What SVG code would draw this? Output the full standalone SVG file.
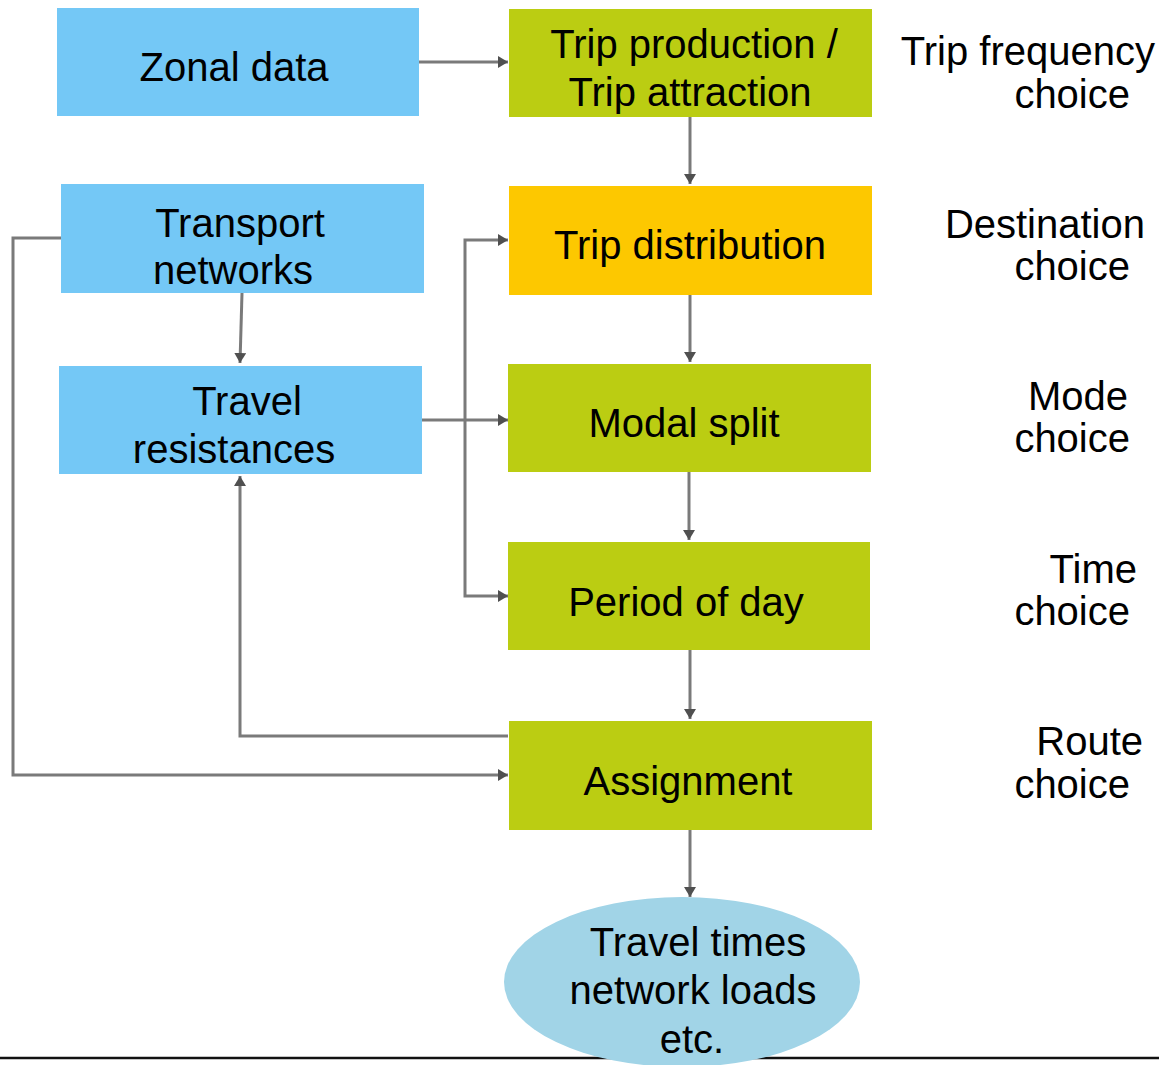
<svg xmlns="http://www.w3.org/2000/svg" width="1159" height="1065" viewBox="0 0 1159 1065">
  <style>
    .lbl { font-family: "Liberation Sans", Arial, sans-serif; font-size: 40px; fill: #000; }
    .mid { text-anchor: middle; }
    .end { text-anchor: end; }
    .blue { fill: #74c8f6; }
    .green { fill: #bbcd12; }
    .orange { fill: #fdc800; }
    .wire { fill: none; stroke: #7a7a7a; stroke-width: 3; }
  </style>
  <defs>
    <marker id="arrow" viewBox="0 0 10 12" refX="10" refY="6" markerWidth="10" markerHeight="12" markerUnits="userSpaceOnUse" orient="auto">
      <path d="M0,0 L10,6 L0,12 Z" fill="#505050"/>
    </marker>
  </defs>

  <rect x="0" y="0" width="1159" height="1065" fill="#fff"/>

  <!-- baseline rule -->
  <line x1="0" y1="1058" x2="1159" y2="1058" stroke="#111" stroke-width="2.5"/>

  <g id="connectors">
    <path class="wire" d="M419,62 L508,62" marker-end="url(#arrow)"/>
    <path class="wire" d="M690,117 L690,184" marker-end="url(#arrow)"/>
    <path class="wire" d="M690,295 L690,362" marker-end="url(#arrow)"/>
    <path class="wire" d="M689,472 L689,540" marker-end="url(#arrow)"/>
    <path class="wire" d="M690,650 L690,719" marker-end="url(#arrow)"/>
    <path class="wire" d="M690,830 L690,897" marker-end="url(#arrow)"/>
    <path class="wire" d="M242,293 L240,363" marker-end="url(#arrow)"/>
    <path class="wire" d="M422,420 L508,420" marker-end="url(#arrow)"/>
    <path class="wire" d="M465,420 L465,240 L508,240" marker-end="url(#arrow)"/>
    <path class="wire" d="M465,420 L465,596 L508,596" marker-end="url(#arrow)"/>
    <path class="wire" d="M61,238 L13,238 L13,775 L508,775" marker-end="url(#arrow)"/>
    <path class="wire" d="M508,736 L240,736 L240,476" marker-end="url(#arrow)"/>
  </g>

  <g id="zonal-data">
    <rect class="blue" x="57" y="8" width="362" height="108"/>
    <text class="lbl mid" x="234" y="81">Zonal data</text>
  </g>

  <g id="trip-production">
    <rect class="green" x="509" y="9" width="363" height="108"/>
    <text class="lbl mid" x="694" y="58">Trip production /</text>
    <text class="lbl mid" x="690" y="106">Trip attraction</text>
  </g>

  <g id="transport-networks">
    <rect class="blue" x="61" y="184" width="363" height="109"/>
    <text class="lbl mid" x="240" y="237">Transport</text>
    <text class="lbl mid" x="233" y="284">networks</text>
  </g>

  <g id="trip-distribution">
    <rect class="orange" x="509" y="186" width="363" height="109"/>
    <text class="lbl mid" x="690" y="259">Trip distribution</text>
  </g>

  <g id="travel-resistances">
    <rect class="blue" x="59" y="366" width="363" height="108"/>
    <text class="lbl mid" x="247" y="415">Travel</text>
    <text class="lbl mid" x="234" y="463">resistances</text>
  </g>

  <g id="modal-split">
    <rect class="green" x="508" y="364" width="363" height="108"/>
    <text class="lbl mid" x="684" y="437">Modal split</text>
  </g>

  <g id="period-of-day">
    <rect class="green" x="508" y="542" width="362" height="108"/>
    <text class="lbl mid" x="686" y="616">Period of day</text>
  </g>

  <g id="assignment">
    <rect class="green" x="509" y="721" width="363" height="109"/>
    <text class="lbl mid" x="688" y="795">Assignment</text>
  </g>

  <g id="results">
    <ellipse cx="682" cy="982" rx="178" ry="85" fill="#a1d4e7"/>
    <text class="lbl mid" x="698" y="956">Travel times</text>
    <text class="lbl mid" x="693" y="1004">network loads</text>
    <text class="lbl mid" x="692" y="1053">etc.</text>
  </g>

  <g id="choice-labels">
    <text class="lbl end" x="1155" y="65">Trip frequency</text>
    <text class="lbl end" x="1130" y="108">choice</text>
    <text class="lbl end" x="1145" y="238">Destination</text>
    <text class="lbl end" x="1130" y="280">choice</text>
    <text class="lbl end" x="1128" y="410">Mode</text>
    <text class="lbl end" x="1130" y="452">choice</text>
    <text class="lbl end" x="1137" y="583">Time</text>
    <text class="lbl end" x="1130" y="625">choice</text>
    <text class="lbl end" x="1143" y="755">Route</text>
    <text class="lbl end" x="1130" y="798">choice</text>
  </g>
</svg>
